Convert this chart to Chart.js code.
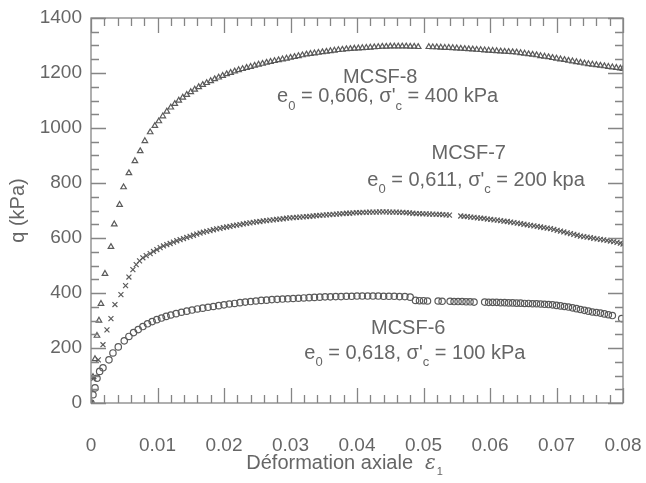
<!DOCTYPE html>
<html>
<head>
<meta charset="utf-8">
<script src="https://cdn.jsdelivr.net/npm/chart.js@4"></script>
<style>
  html, body { margin: 0; padding: 0; background: #fff; }
  #wrap { width: 646px; height: 483px; }
</style>
</head>
<body>
<div id="wrap"><canvas id="chart" width="646" height="483"></canvas></div>
<script>
// q vs axial strain, three triaxial tests

const xTicks = [0, 0.01, 0.02, 0.03, 0.04, 0.05, 0.06, 0.07, 0.08];
const yTicks = [0, 200, 400, 600, 800, 1000, 1200, 1400];

// MCSF-8 : triangles
const mcsf8 = [
  [0, 0], [0.0003, 95], [0.0006, 160], [0.0009, 245], [0.0012, 300], [0.0015, 361],
  [0.0021, 470], [0.003, 568], [0.0035, 650], [0.0043, 721], [0.0049, 785],
  [0.0057, 836], [0.0066, 880], [0.0074, 916], [0.0081, 953], [0.0089, 985],
  [0.0096, 1008], [0.0102, 1025], [0.0108, 1043], [0.0114, 1060], [0.012, 1075],
  [0.0126, 1088], [0.0132, 1100], [0.0138, 1111], [0.0144, 1121], [0.015, 1131],
  [0.0156, 1140], [0.0162, 1149], [0.0168, 1157], [0.0174, 1164], [0.018, 1171],
  [0.0186, 1178], [0.0192, 1184], [0.0198, 1190], [0.0204, 1196], [0.021, 1201],
  [0.0216, 1206], [0.0222, 1211], [0.0228, 1215], [0.0234, 1219], [0.024, 1223],
  [0.0246, 1227], [0.0252, 1231], [0.0258, 1234], [0.0264, 1238], [0.027, 1241],
  [0.0276, 1244], [0.0282, 1247], [0.0288, 1250], [0.0294, 1253], [0.03, 1256],
  [0.0306, 1259], [0.0312, 1262], [0.0318, 1265], [0.0324, 1268], [0.033, 1270],
  [0.0336, 1272], [0.0342, 1274], [0.0348, 1276], [0.0354, 1278], [0.036, 1280],
  [0.0366, 1282], [0.0372, 1284], [0.0378, 1285], [0.0384, 1287], [0.039, 1288],
  [0.0396, 1289], [0.0402, 1290], [0.0408, 1291], [0.0414, 1292], [0.042, 1293],
  [0.0426, 1294], [0.0432, 1295], [0.0438, 1296], [0.0444, 1296], [0.045, 1297],
  [0.0456, 1297], [0.0462, 1297], [0.0468, 1297], [0.0474, 1297], [0.048, 1296],
  [0.0486, 1296], [0.0492, 1295],
  [0.0508, 1295], [0.0514, 1294], [0.052, 1294], [0.0526, 1293], [0.0532, 1292],
  [0.0538, 1292], [0.0544, 1291], [0.055, 1290], [0.0556, 1289], [0.0562, 1288],
  [0.0568, 1287], [0.0574, 1286], [0.058, 1285], [0.0586, 1284], [0.0592, 1283],
  [0.0598, 1282], [0.0604, 1281], [0.061, 1280], [0.0616, 1279], [0.0622, 1278],
  [0.0628, 1277], [0.0634, 1276], [0.064, 1275], [0.0646, 1273], [0.0652, 1271],
  [0.0658, 1269], [0.0664, 1267], [0.067, 1265], [0.0676, 1262], [0.0682, 1260],
  [0.0688, 1258], [0.0694, 1255], [0.07, 1253], [0.0706, 1250], [0.0712, 1248],
  [0.0718, 1245], [0.0724, 1243], [0.073, 1240], [0.0736, 1238], [0.0742, 1235],
  [0.0748, 1233], [0.0754, 1231], [0.076, 1229], [0.0766, 1227], [0.0772, 1225],
  [0.0778, 1223], [0.0784, 1221], [0.079, 1219], [0.0796, 1217], [0.08, 1215]
];

// MCSF-7 : crosses
const mcsf7 = [
  [0, 0], [0.0004, 90], [0.0011, 157], [0.0018, 212], [0.0024, 266], [0.003, 307],
  [0.0036, 358], [0.0045, 394], [0.0052, 427], [0.0057, 458], [0.0063, 485],
  [0.0068, 503], [0.0073, 517], [0.0078, 528], [0.0083, 536], [0.0089, 543],
  [0.0094, 551], [0.0099, 558], [0.0104, 565], [0.0109, 571], [0.0114, 576],
  [0.0119, 580], [0.0124, 585], [0.0129, 590], [0.0134, 594], [0.0139, 598],
  [0.0144, 602], [0.0149, 606], [0.0154, 610], [0.0159, 614], [0.0164, 618],
  [0.0169, 621], [0.0174, 624], [0.0179, 627], [0.0184, 630], [0.0189, 633],
  [0.0194, 635], [0.0199, 638], [0.0204, 640], [0.0209, 642], [0.0214, 645],
  [0.0219, 647], [0.0224, 649], [0.0229, 651], [0.0234, 653], [0.0239, 655],
  [0.0244, 657], [0.0249, 659], [0.0254, 660], [0.0259, 662], [0.0264, 663],
  [0.0269, 665], [0.0274, 666], [0.0279, 668], [0.0284, 669], [0.0289, 670],
  [0.0294, 672], [0.0299, 673], [0.0304, 674], [0.0309, 675], [0.0314, 676],
  [0.0319, 677], [0.0324, 678], [0.0329, 679], [0.0334, 680], [0.0339, 681],
  [0.0344, 682], [0.0349, 683], [0.0354, 684], [0.0359, 685], [0.0364, 686],
  [0.0369, 687], [0.0374, 688], [0.0379, 689], [0.0384, 690], [0.0389, 690],
  [0.0394, 691], [0.0399, 692], [0.0404, 692], [0.0409, 693], [0.0414, 693],
  [0.0419, 694], [0.0424, 694], [0.0429, 694], [0.0434, 695], [0.0439, 695],
  [0.0444, 695], [0.0449, 694], [0.0454, 694], [0.0459, 694], [0.0464, 693],
  [0.0469, 693], [0.0474, 692], [0.0479, 691], [0.0484, 690], [0.0489, 689],
  [0.0494, 689], [0.0499, 688], [0.0504, 688], [0.0509, 687], [0.0514, 687],
  [0.0519, 686], [0.0524, 686], [0.0529, 685], [0.0534, 684], [0.0539, 683],
  [0.0556, 680], [0.0561, 679], [0.0566, 678], [0.0571, 676], [0.0576, 675],
  [0.0581, 673], [0.0586, 672], [0.0591, 671], [0.0596, 669], [0.0601, 668],
  [0.0606, 666], [0.0611, 665], [0.0616, 663], [0.0621, 661], [0.0626, 660],
  [0.0631, 658], [0.0636, 656], [0.0641, 654], [0.0646, 652], [0.0651, 650],
  [0.0656, 648], [0.0661, 646], [0.0666, 644], [0.0671, 642], [0.0676, 640],
  [0.0681, 638], [0.0686, 636], [0.0691, 634], [0.0696, 631], [0.0701, 628],
  [0.0706, 625], [0.0711, 622], [0.0716, 619], [0.0721, 616], [0.0726, 613],
  [0.0731, 610], [0.0736, 607], [0.0741, 605], [0.0746, 603], [0.0751, 601],
  [0.0756, 599], [0.0761, 597], [0.0766, 595], [0.0771, 593], [0.0776, 591],
  [0.0781, 589], [0.0786, 587], [0.0791, 584], [0.0796, 581], [0.08, 578]
];

// MCSF-6 : circles
const mcsf6 = [
  [0, 0], [0.0003, 30], [0.0006, 55], [0.0009, 90], [0.0013, 115], [0.0018, 128],
  [0.0027, 157], [0.0033, 182], [0.0041, 204], [0.005, 226], [0.0057, 242],
  [0.0064, 256], [0.0071, 267], [0.0078, 278], [0.0085, 288], [0.0092, 296],
  [0.0099, 303], [0.0106, 309], [0.0113, 315], [0.012, 320], [0.0128, 325],
  [0.0136, 330], [0.0144, 334], [0.0152, 338], [0.016, 342], [0.0168, 345],
  [0.0176, 348], [0.0184, 351], [0.0192, 354], [0.02, 357], [0.0208, 360],
  [0.0216, 362], [0.0224, 365], [0.0232, 367], [0.024, 369], [0.0248, 371],
  [0.0256, 373], [0.0264, 374], [0.0272, 376], [0.028, 377], [0.0288, 378],
  [0.0296, 379], [0.0304, 380], [0.0312, 381], [0.032, 382], [0.0328, 383],
  [0.0336, 384], [0.0344, 385], [0.0352, 386], [0.036, 386], [0.0368, 387],
  [0.0376, 387], [0.0384, 388], [0.0392, 388], [0.04, 389], [0.0408, 389],
  [0.0416, 389], [0.0424, 389], [0.0432, 389], [0.044, 388], [0.0448, 388],
  [0.0456, 388], [0.0464, 387], [0.0472, 387], [0.048, 385],
  [0.0488, 373], [0.0494, 372], [0.05, 372], [0.0506, 371],
  [0.0522, 371], [0.0528, 370], [0.054, 370], [0.0546, 369], [0.0552, 369],
  [0.0558, 369], [0.0564, 368], [0.057, 368], [0.0576, 367],
  [0.0592, 367], [0.0598, 366], [0.0604, 366], [0.061, 366], [0.0616, 365],
  [0.0622, 365], [0.0628, 364], [0.0634, 364], [0.064, 363], [0.0646, 363],
  [0.0652, 362], [0.0658, 362], [0.0664, 361], [0.067, 361], [0.0676, 360],
  [0.0682, 359], [0.0688, 358], [0.0694, 357], [0.07, 355], [0.0706, 353],
  [0.0712, 351], [0.0718, 349], [0.0724, 346], [0.073, 343], [0.0736, 340],
  [0.0742, 337], [0.0748, 334], [0.0754, 331], [0.076, 329], [0.0766, 327],
  [0.0772, 324], [0.0778, 321], [0.0784, 318], [0.0798, 307]
];

const INK = '#666666';
const AXIS = '#858585';
const FONT = '"Liberation Sans", Arial, sans-serif';

// annotation lines: segments of [text, 'n' | 's'] (s = subscript), placed in data units
const notes = [
  { x: 0.0435, y: 1182, segs: [['MCSF-8', 'n']] },
  { x: 0.0446, y: 1113, segs: [['e', 'n'], ['0', 's'], [' = 0,606, σ\'', 'n'], ['c', 's'], [' = 400 kPa', 'n']] },
  { x: 0.0568, y: 909, segs: [['MCSF-7', 'n']] },
  { x: 0.0579, y: 810, segs: [['e', 'n'], ['0', 's'], [' = 0,611, σ\'', 'n'], ['c', 's'], [' = 200 kpa', 'n']] },
  { x: 0.0477, y: 270, segs: [['MCSF-6', 'n']] },
  { x: 0.0487, y: 179, segs: [['e', 'n'], ['0', 's'], [' = 0,618, σ\'', 'n'], ['c', 's'], [' = 100 kPa', 'n']] }
];

function toPoints(pairs) {
  return pairs.map(p => ({ x: p[0], y: p[1] }));
}

function drawRich(ctx, segs, cx, cy, size) {
  const subSize = Math.round(size * 0.65);
  let total = 0;
  segs.forEach(s => {
    ctx.font = (s[1] === 's' ? subSize : size) + 'px ' + FONT;
    total += ctx.measureText(s[0]).width;
  });
  let px = cx - total / 2;
  segs.forEach(s => {
    const sub = s[1] === 's';
    ctx.font = (sub ? subSize : size) + 'px ' + FONT;
    ctx.fillText(s[0], px, cy + (sub ? size * 0.45 : 0));
    px += ctx.measureText(s[0]).width;
  });
}

// frame with inward ticks on all four sides
const frameTicks = {
  id: 'frameTicks',
  afterDatasetsDraw(chart) {
    const { ctx, chartArea: a, scales: { x, y } } = chart;
    ctx.save();
    ctx.strokeStyle = AXIS;
    ctx.lineWidth = 1.3;
    ctx.strokeRect(a.left, a.top, a.right - a.left, a.bottom - a.top);
    ctx.beginPath();
    for (let i = 0; i <= 40; i++) {
      const px = Math.round(x.getPixelForValue(i * 0.002)) + 0.5;
      const len = i % 5 === 0 ? 15 : 8;
      ctx.moveTo(px, a.bottom); ctx.lineTo(px, a.bottom - len);
      ctx.moveTo(px, a.top); ctx.lineTo(px, a.top + len);
    }
    for (let i = 0; i <= 28; i++) {
      const py = Math.round(y.getPixelForValue(i * 50)) + 0.5;
      const len = i % 4 === 0 ? 15 : 8;
      ctx.moveTo(a.left, py); ctx.lineTo(a.left + len, py);
      ctx.moveTo(a.right, py); ctx.lineTo(a.right - len, py);
    }
    ctx.stroke();
    ctx.restore();
  }
};

// curve labels and x-axis title
const labels = {
  id: 'labels',
  afterDraw(chart) {
    const { ctx, scales: { x, y } } = chart;
    ctx.save();
    ctx.fillStyle = INK;
    ctx.textBaseline = 'middle';
    ctx.textAlign = 'left';
    notes.forEach(n => drawRich(ctx, n.segs, x.getPixelForValue(n.x), y.getPixelForValue(n.y), 20));

    // Déformation axiale  ε1
    const title = 'Déformation axiale';
    ctx.font = '20px ' + FONT;
    const w1 = ctx.measureText(title).width;
    ctx.font = 'italic 20px "DejaVu Serif", serif';
    const w2 = ctx.measureText('ε').width;
    const gap = 12;
    let sx = 344 - (w1 + gap + w2 + 6) / 2;
    const ty = 463;
    ctx.font = '20px ' + FONT;
    ctx.fillText(title, sx, ty);
    sx += w1 + gap;
    ctx.font = 'italic 20px "DejaVu Serif", serif';
    ctx.fillText('ε', sx, ty + 1);
    sx += w2 + 1;
    ctx.font = '11px ' + FONT;
    ctx.fillText('1', sx, ty + 9);
    ctx.restore();
  }
};

const pointStyle = {
  showLine: false,
  borderColor: '#5a5a5a',
  backgroundColor: 'rgba(0,0,0,0)',
  borderWidth: 1.2,
  pointHoverRadius: 4
};

new Chart(document.getElementById('chart'), {
  type: 'scatter',
  data: {
    datasets: [
      { ...pointStyle, label: 'MCSF-8', data: toPoints(mcsf8), pointStyle: 'triangle', pointRadius: 3.2 },
      { ...pointStyle, label: 'MCSF-7', data: toPoints(mcsf7), pointStyle: 'crossRot', pointRadius: 3.5 },
      { ...pointStyle, label: 'MCSF-6', data: toPoints(mcsf6), pointStyle: 'circle', pointRadius: 3.2 }
    ]
  },
  options: {
    responsive: false,
    animation: false,
    devicePixelRatio: 1,
    layout: { padding: { top: 18, right: 23, left: 0, bottom: 0 } },
    plugins: {
      legend: { display: false },
      tooltip: { enabled: false }
    },
    scales: {
      x: {
        type: 'linear',
        min: 0,
        max: 0.08,
        afterFit: s => { s.height = 80; s.paddingLeft = 0; s.paddingRight = 0; },
        afterBuildTicks: s => { s.ticks = xTicks.map(v => ({ value: v })); },
        grid: { display: false, drawTicks: false },
        border: { display: false },
        ticks: {
          color: INK,
          font: { size: 19, family: FONT },
          padding: 31,
          maxRotation: 0,
          callback: v => (v === 0 ? '0' : v.toFixed(2))
        }
      },
      y: {
        type: 'linear',
        min: 0,
        max: 1400,
        afterFit: s => { s.width = 91; s.paddingTop = 0; s.paddingBottom = 0; },
        afterBuildTicks: s => { s.ticks = yTicks.map(v => ({ value: v })); },
        grid: { display: false, drawTicks: false },
        border: { display: false },
        ticks: {
          color: INK,
          font: { size: 19, family: FONT },
          padding: 9,
          callback: v => String(v)
        },
        title: {
          display: true,
          text: 'q (kPa)',
          color: INK,
          font: { size: 20, family: FONT },
          padding: { top: 6, bottom: 0 }
        }
      }
    }
  },
  plugins: [frameTicks, labels]
});
</script>
</body>
</html>
